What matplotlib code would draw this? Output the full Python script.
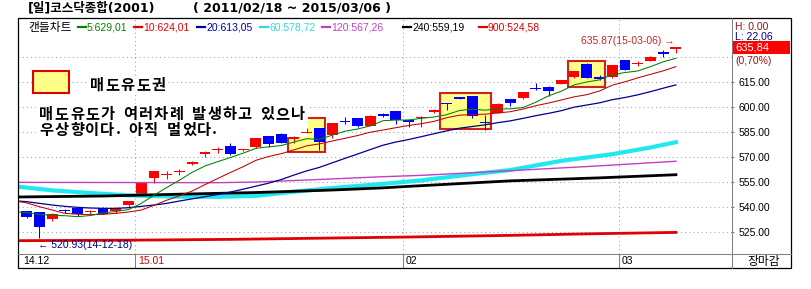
import numpy as np
import matplotlib.pyplot as plt
from matplotlib.patches import Rectangle
from matplotlib.lines import Line2D
from matplotlib.transforms import blended_transform_factory

plt.rcParams['font.family'] = ['Liberation Sans', 'Noto Sans CJK KR']

W, H = 812, 289

# KOSDAQ daily candles, 2014-12-17 .. 2015-03-06 (52 sessions)
opens = [537.2, 536.8, 532.8, 537.8, 539.2, 536.9, 539.4, 537.2, 540.8,
         547.3, 557.0, 558.8, 560.7, 565.6, 571.5, 574.3, 576.5, 573.8, 575.7,
         582.5, 583.8, 580.5, 584.3, 587.2, 583.1, 591.0, 593.2, 588.6, 595.7,
         597.2, 592.2, 593.0, 596.6, 601.9, 605.9, 606.3, 590.8, 596.3, 604.7,
         605.3, 610.9, 612.0, 613.8, 617.7, 625.7, 618.0, 617.6, 627.9, 625.7,
         627.5, 633.0, 634.6]
highs = [537.6, 537.0, 536.0, 538.6, 539.5, 538.2, 539.6, 539.6, 543.6,
         554.5, 561.6, 561.5, 562.5, 567.3, 573.7, 576.1, 578.5, 574.6, 581.4,
         582.7, 584.0, 582.5, 587.0, 587.5, 590.5, 593.7, 593.5, 594.8, 596.0,
         597.4, 592.4, 594.2, 598.5, 602.0, 606.0, 606.5, 595.2, 602.1, 604.9,
         608.9, 614.4, 612.2, 616.0, 621.4, 626.0, 619.3, 625.1, 628.1, 627.2,
         630.3, 634.3, 635.87]
lows = [533.0, 520.93, 531.3, 536.4, 534.2, 535.8, 535.5, 536.2, 539.8,
        547.0, 554.3, 556.4, 559.0, 565.0, 570.0, 572.1, 571.3, 573.5, 575.5,
        575.7, 578.3, 578.0, 584.2, 574.1, 581.2, 589.5, 588.0, 588.4, 594.0,
        589.8, 588.0, 587.9, 596.4, 598.3, 604.5, 593.2, 586.2, 596.1, 600.3,
        604.5, 610.3, 606.7, 613.6, 617.5, 617.2, 615.9, 617.4, 621.8, 624.6,
        627.3, 629.9, 632.5]
closes = [533.8, 527.7, 535.8, 537.4, 535.4, 537.3, 535.8, 539.4, 543.4,
          554.3, 561.4, 559.2, 561.2, 567.0, 573.0, 574.7, 571.5, 574.4, 581.2,
          577.7, 578.5, 582.0, 584.7, 579.1, 590.2, 590.6, 588.2, 594.6, 594.2,
          592.2, 590.8, 593.4, 598.3, 601.5, 604.7, 594.6, 590.2, 601.9, 602.3,
          608.7, 610.5, 609.3, 615.8, 621.2, 617.4, 616.8, 624.9, 622.0, 626.1,
          630.1, 631.4, 635.84]

# short moving averages, one value per session (first entry = day before)
ma5 = [537.0, 536.5, 535.3, 534.8, 534.6, 534.0, 534.7, 536.3, 537.1, 538.3,
       542.0, 546.9, 551.5, 555.9, 560.6, 564.4, 567.0, 569.5, 572.1, 575.0,
       575.9, 576.7, 578.8, 580.8, 580.4, 582.9, 585.3, 586.6, 588.5, 591.6,
       592.0, 592.0, 593.0, 593.8, 595.2, 597.7, 598.5, 597.9, 598.6, 598.7,
       599.5, 602.7, 606.5, 609.3, 613.1, 614.8, 616.1, 619.2, 620.5, 621.4,
       624.0, 626.9, 629.01]
ma10 = [543.5, 542.3, 540.0, 538.0, 536.0, 535.5, 535.2, 535.4, 536.0, 536.8,
        538.0, 540.8, 543.9, 546.5, 549.4, 553.2, 556.9, 560.5, 564.0, 567.8,
        570.1, 571.8, 574.1, 576.5, 577.7, 579.4, 581.0, 582.7, 584.7, 586.0,
        587.4, 588.7, 589.8, 591.2, 593.4, 594.9, 595.3, 595.5, 596.2, 597.0,
        598.6, 600.6, 602.2, 604.0, 605.9, 607.2, 609.4, 612.9, 614.9, 617.3,
        619.4, 621.5, 624.01]
ma20 = [543.6, 543.0, 542.0, 541.0, 540.2, 539.6, 539.2, 539.0, 539.0, 539.4,
        540.2, 541.0, 542.0, 543.4, 544.7, 546.0, 547.3, 548.8, 550.5, 552.3,
        554.1, 556.3, 559.0, 561.5, 563.6, 566.3, 569.0, 571.6, 574.3, 576.9,
        578.8, 580.3, 582.0, 583.8, 585.5, 587.1, 588.1, 589.1, 590.4, 591.5,
        593.0, 594.6, 596.0, 597.6, 599.7, 601.0, 602.3, 604.2, 605.5, 607.1,
        609.0, 611.1, 613.05]

# long moving averages read at a few sessions
ma60_x = [-1, 2, 5, 8, 12, 15, 18, 21, 24, 28, 31, 35, 38, 42, 46, 49, 51]
ma60 = [552.3, 549.8, 548.2, 546.8, 546.0, 545.9, 546.5, 549.0, 551.2, 553.7,
        555.8, 559.5, 562.0, 567.5, 571.5, 575.5, 578.72]
ma120_x = [-1, 8, 15, 18, 22, 28, 31, 38, 45, 51]
ma120 = [554.6, 554.5, 554.4, 554.8, 556.0, 558.0, 558.8, 561.6, 564.5, 567.26]
ma240_x = [-1, 6, 12, 18, 24, 28, 30, 38, 45, 51]
ma240 = [545.8, 546.4, 547.5, 548.5, 550.0, 551.3, 552.2, 555.5, 557.3, 559.19]
ma900_x = [-1, 8, 16, 24, 30, 38, 44, 51]
ma900 = [519.6, 519.9, 520.4, 521.2, 521.8, 522.8, 523.7, 524.58]

month_start = [9, 30, 47]
month_labels = ['15.01', '02', '03']

# sell-signal zones: first session, last session, low, high
zones = [(21, 23, 573.0, 593.0), (33, 36, 586.6, 608.4), (43, 45, 612.0, 627.6)]


def fx(px):
    return px / W


def fy(py):
    return 1 - py / H


fig = plt.figure(figsize=(W / 100, H / 100), dpi=100)
fig.patch.set_facecolor('white')
ax = fig.add_axes([fx(17.5), fy(254.3), fx(732.3) - fx(17.5), fy(18) - fy(254.3)])
ax.set_xlim(-0.723, 55.43)
ax.set_ylim(511.44, 653.2)
for s in ax.spines.values():
    s.set_visible(False)

grid = '#A0A0A0'
for v in np.arange(525, 631, 15):
    ax.axhline(v, color=grid, lw=0.75, ls=(0, (1, 3)), zorder=0)
for m in month_start:
    ax.axvline(m - 0.47, color=grid, lw=0.75, ls=(0, (1, 3)), zorder=0)

# 630 label sits under the change box, so only 525..615 are written
yt = np.arange(525, 616, 15)
ax.set_xticks([])
ax.yaxis.tick_right()
ax.set_yticks(yt)
ax.set_yticklabels([f'{v:.2f}' for v in yt])
ax.tick_params(axis='y', length=1.5, width=0.75, color='#808080', pad=3, labelsize=7.5)

# zones
for a, b, lo, hi in zones:
    ax.add_patch(Rectangle((a - 0.5, lo), b - a + 0.95, hi - lo, facecolor='#FFFF88',
                           edgecolor='#D02020', lw=1.5, zorder=2))

# white box behind the comment
ax.add_patch(Rectangle((fx(36.5), fy(137)), fx(308) - fx(36.5), fy(104) - fy(137),
                       transform=fig.transFigure, facecolor='white', lw=0, zorder=3))

# candles
idx = np.arange(len(closes))
o = np.array(opens)
c = np.array(closes)
col = np.where(c >= o, '#FF0000', '#0000FF')
ax.vlines(idx, lows, highs, colors=col, lw=0.75, zorder=4)
ax.bar(idx, np.maximum(np.abs(c - o), 0.6), bottom=np.minimum(o, c), width=0.85,
       color=col, lw=0, zorder=5)

# moving averages
xs = np.arange(-1, len(closes))
ax.plot(ma900_x, ma900, color='#E00000', lw=2.0, zorder=6)
ax.plot(ma60_x, ma60, color='#20E8F0', lw=3.0, zorder=6)
ax.plot(ma240_x, ma240, color='black', lw=2.0, zorder=6)
ax.plot(ma120_x, ma120, color='#C040C0', lw=1.0, zorder=6)
ax.plot(xs, ma20, color='#000090', lw=0.9, zorder=7)
ax.plot(xs, ma10, color='#C00000', lw=0.75, zorder=7)
ax.plot(xs, ma5, color='#008000', lw=0.75, zorder=7)

# high / low notes
ax.text(51 - 0.1, highs[51] + 3.6, f'{highs[51]:.2f}(15-03-06) →', ha='right', va='center',
        color='#C02828', fontsize=7.5, zorder=8)
ax.text(1 - 0.1, lows[1] - 3.9, f'← {lows[1]:.2f}(14-12-18)', ha='left', va='center',
        color='#000080', fontsize=7.5, zorder=8)

# legend of the zone and the comment
ax.add_patch(Rectangle((fx(32.7), fy(92.7)), fx(69.3) - fx(32.7), fy(71) - fy(92.7),
                       transform=fig.transFigure, facecolor='#FFFF88', edgecolor='#E00000',
                       lw=1.5, zorder=8))
kfont = ['Noto Sans CJK KR']


def spaced(x0, y, s, pitch=15.2, size=11):
    # the chart font is set with wide letter spacing; place glyph by glyph
    x = x0
    for ch in s:
        if ch != ' ':
            ax.text(fx(x), fy(y), ch, transform=fig.transFigure, family=kfont,
                    fontweight='bold', fontsize=size, va='center', zorder=8)
        x += 7.8 if ch == ' ' else (5 if ch == '.' else pitch)


ax.add_patch(Rectangle((fx(88), fy(93)), fx(168) - fx(88), fy(77) - fy(93),
                       transform=fig.transFigure, facecolor='white', lw=0, zorder=7))
spaced(90, 85, '매도유도권', pitch=15.4)
spaced(39.5, 114, '매도유도가 여러차례 발생하고 있으나')
spaced(39.5, 129.5, '우상향이다. 아직 멀었다.')

# x strip
blend = blended_transform_factory(ax.transData, fig.transFigure)
fig.text(fx(23), fy(261.5), '14.12', fontsize=7.5, va='center')
for m, lab in zip(month_start, month_labels):
    ax.plot([m - 0.47, m - 0.47], [fy(254.3), fy(268)], transform=blend, color='#808080',
            lw=0.75, clip_on=False)
    ax.text(m - 0.47 + 0.2, fy(261.5), lab, transform=blend, fontsize=7.5, va='center',
            color='#D00000' if lab == '15.01' else 'black')

# frame lines
fig.add_artist(Line2D([fx(732.3)] * 2, [fy(18), fy(268)], color='#808080', lw=0.75))
fig.add_artist(Line2D([fx(17.5), fx(791)], [fy(254.3)] * 2, color='#808080', lw=0.75))
fig.add_artist(Rectangle((fx(17.5), fy(268)), fx(791) - fx(17.5), fy(18) - fy(268),
                         transform=fig.transFigure, fill=False, ec='black', lw=0.9))

# header
hfont = ['DejaVu Sans', 'Noto Sans CJK KR']
fig.text(fx(28), fy(8), '[일]코스닥종합(2001)', family=hfont, fontweight='bold',
         fontsize=9, va='center')
fig.text(fx(193), fy(8), '( 2011/02/18 ~ 2015/03/06 )', family=hfont, fontweight='bold',
         fontsize=9, va='center')

# legend row
fig.text(fx(28), fy(27), '캔들차트', family=kfont, fontsize=8.5, va='center')
ma_legend = [(5, ma5[-1], '#008000', 78), (10, ma10[-1], '#E00000', 134),
             (20, ma20[-1], '#0000A0', 197), (60, ma60[-1], '#30D8E0', 260),
             (120, ma120[-1], '#C040C0', 322), (240, ma240[-1], 'black', 403),
             (900, ma900[-1], '#E00000', 479)]
for n, val, clr, x0 in ma_legend:
    fig.add_artist(Line2D([fx(x0), fx(x0 + 8)], [fy(27)] * 2, color=clr, lw=1.6))
    fig.text(fx(x0 + 9), fy(27), f'{n}:{val:.2f}'.replace('.', ','), color=clr,
             fontsize=7.5, va='center')

# right panel
fig.text(fx(735), fy(27), 'H: 0.00', color='#A01010', fontsize=7.5, va='center')
fig.text(fx(735), fy(36.5), 'L: 22,06', color='#000080', fontsize=7.5, va='center')
fig.add_artist(Rectangle((fx(732.8), fy(54.3)), fx(790.5) - fx(732.8), fy(41) - fy(54.3),
                         transform=fig.transFigure, facecolor='#FF0000', lw=0))
fig.text(fx(735), fy(48), f'{closes[-1]:.2f}'.replace('.', ','), color='white',
         fontsize=8, va='center')
fig.text(fx(735), fy(61.5), '(0,70%)', color='#A01010', fontsize=7.5, va='center')
fig.text(fx(763.5), fy(261.5), '장마감', family=kfont, fontsize=8.5, ha='center', va='center')

fig.savefig('out.png', dpi=100)
